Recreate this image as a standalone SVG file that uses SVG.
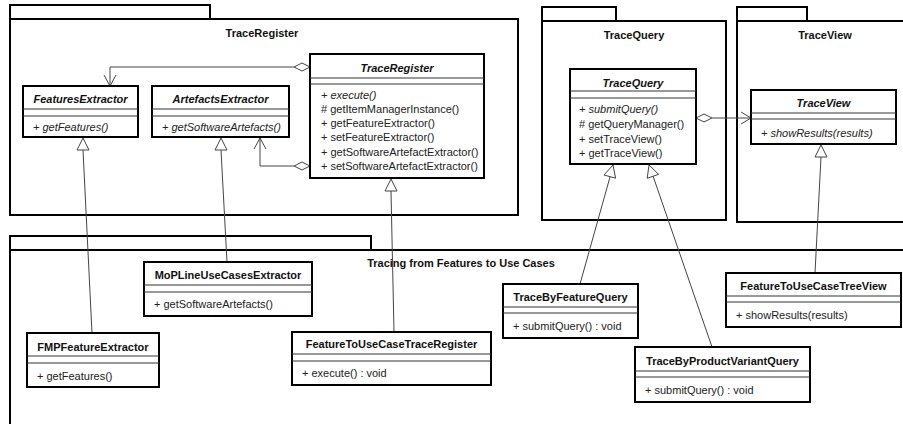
<svg xmlns="http://www.w3.org/2000/svg" width="903" height="424" viewBox="0 0 903 424">
<style>
text{font-family:"Liberation Sans",Arial,sans-serif;font-size:11px;fill:#111}
.pkg{fill:#fff;stroke:#000;stroke-width:2}
.ptitle{font-weight:bold;text-anchor:middle}
.box{fill:#fff;stroke:#000;stroke-width:2}
.sep{stroke:#333;stroke-width:1}
.name{font-weight:bold;text-anchor:middle}
.abs{font-style:italic}
.op{fill:#222}
.conn{fill:none;stroke:#444;stroke-width:1}
.dia{fill:#fff;stroke:#444;stroke-width:1}
.tri{fill:#fff;stroke:#444;stroke-width:1}
</style>

<g id="pkg-TraceRegister">
<rect class="pkg" x="10" y="5" width="200" height="14"/>
<rect class="pkg" x="10" y="19" width="508" height="196"/>
<text class="ptitle" x="262" y="37">TraceRegister</text>
</g>
<g id="pkg-TraceQuery">
<rect class="pkg" x="542" y="7" width="74" height="14"/>
<rect class="pkg" x="542" y="21" width="184" height="199"/>
<text class="ptitle" x="634" y="39">TraceQuery</text>
</g>
<g id="pkg-TraceView">
<rect class="pkg" x="737" y="7" width="70" height="14"/>
<rect class="pkg" x="737" y="21" width="176" height="201"/>
<text class="ptitle" x="825" y="39">TraceView</text>
</g>
<g id="pkg-Tracing">
<rect class="pkg" x="10" y="236" width="361" height="14"/>
<rect class="pkg" x="10" y="250" width="903" height="190"/>
<text class="ptitle" x="461" y="267">Tracing from Features to Use Cases</text>
</g>

<g id="connectors">
<!-- aggregation TraceRegister -> FeaturesExtractor -->
<polyline class="conn" points="294,67 110,67 110,86"/>
<polyline class="conn" points="104,75 110,86 116,75"/>
<polygon class="dia" points="310,67 302,63 294,67 302,71"/>
<!-- aggregation TraceRegister -> ArtefactsExtractor -->
<polyline class="conn" points="294,166 260,166 260,138"/>
<polyline class="conn" points="254,149 260,138 266,149"/>
<polygon class="dia" points="310,166 302,162 294,166 302,170"/>
<!-- aggregation TraceQuery -> TraceView -->
<line class="conn" x1="712" y1="118" x2="751" y2="118"/>
<polyline class="conn" points="741,112 751,118 741,124"/>
<polygon class="dia" points="696,118 704,114 712,118 704,122"/>
<!-- generalizations -->
<line class="conn" x1="83" y1="150" x2="92" y2="333"/>
<polygon class="tri" points="83,138 77,150 89,150"/>
<line class="conn" x1="221" y1="150" x2="227" y2="262"/>
<polygon class="tri" points="221,138 215,150 227,150"/>
<line class="conn" x1="391" y1="191" x2="394" y2="332"/>
<polygon class="tri" points="391,179 385,191 397,191"/>
<line class="conn" x1="610" y1="177" x2="580" y2="284"/>
<polygon class="tri" points="613,165 615.6,178.2 604,175"/>
<line class="conn" x1="653" y1="176" x2="712" y2="347"/>
<polygon class="tri" points="649,165 658.6,174.3 647.2,178.3"/>
<line class="conn" x1="821" y1="157" x2="815" y2="273"/>
<polygon class="tri" points="821,145 815,157 827,157"/>
</g>

<g id="FeaturesExtractor">
<rect class="box" x="23" y="86" width="115" height="51"/>
<line class="sep" x1="23" y1="109" x2="138" y2="109"/>
<line class="sep" x1="23" y1="116" x2="138" y2="116"/>
<text class="name abs" x="80.5" y="103">FeaturesExtractor</text>
<text class="op abs" x="33" y="131">+ getFeatures()</text>
</g>
<g id="ArtefactsExtractor">
<rect class="box" x="152" y="86" width="137" height="51"/>
<line class="sep" x1="152" y1="109" x2="289" y2="109"/>
<line class="sep" x1="152" y1="116" x2="289" y2="116"/>
<text class="name abs" x="220.5" y="103">ArtefactsExtractor</text>
<text class="op abs" x="162" y="131">+ getSoftwareArtefacts()</text>
</g>
<g id="TraceRegister">
<rect class="box" x="310" y="54" width="174" height="124"/>
<line class="sep" x1="310" y1="78" x2="484" y2="78"/>
<line class="sep" x1="310" y1="84" x2="484" y2="84"/>
<text class="name abs" x="397" y="72">TraceRegister</text>
<text class="op abs" x="321" y="99">+ execute()</text>
<text class="op" x="321" y="113"># getItemManagerInstance()</text>
<text class="op" x="321" y="127">+ getFeatureExtractor()</text>
<text class="op" x="321" y="141">+ setFeatureExtractor()</text>
<text class="op" x="321" y="156">+ getSoftwareArtefactExtractor()</text>
<text class="op" x="321" y="170">+ setSoftwareArtefactExtractor()</text>
</g>
<g id="TraceQuery">
<rect class="box" x="570" y="69" width="126" height="95"/>
<line class="sep" x1="570" y1="91" x2="696" y2="91"/>
<line class="sep" x1="570" y1="98" x2="696" y2="98"/>
<text class="name abs" x="633" y="87">TraceQuery</text>
<text class="op abs" x="579" y="113">+ submitQuery()</text>
<text class="op" x="579" y="128"># getQueryManager()</text>
<text class="op" x="579" y="143">+ setTraceView()</text>
<text class="op" x="579" y="157">+ getTraceView()</text>
</g>
<g id="TraceView">
<rect class="box" x="751" y="90" width="145" height="54"/>
<line class="sep" x1="751" y1="113" x2="896" y2="113"/>
<line class="sep" x1="751" y1="119" x2="896" y2="119"/>
<text class="name abs" x="823.5" y="107">TraceView</text>
<text class="op abs" x="761" y="137">+ showResults(results)</text>
</g>
<g id="FMPFeatureExtractor">
<rect class="box" x="27" y="333" width="132" height="54"/>
<line class="sep" x1="27" y1="356" x2="159" y2="356"/>
<line class="sep" x1="27" y1="363" x2="159" y2="363"/>
<text class="name" x="93" y="351">FMPFeatureExtractor</text>
<text class="op" x="37" y="380">+ getFeatures()</text>
</g>
<g id="MoPLineUseCasesExtractor">
<rect class="box" x="144" y="262" width="168" height="54"/>
<line class="sep" x1="144" y1="285" x2="312" y2="285"/>
<line class="sep" x1="144" y1="292" x2="312" y2="292"/>
<text class="name" x="228" y="279">MoPLineUseCasesExtractor</text>
<text class="op" x="154" y="308">+ getSoftwareArtefacts()</text>
</g>
<g id="FeatureToUseCaseTraceRegister">
<rect class="box" x="292" y="332" width="199" height="53"/>
<line class="sep" x1="292" y1="354" x2="491" y2="354"/>
<line class="sep" x1="292" y1="361" x2="491" y2="361"/>
<text class="name" x="391.5" y="348">FeatureToUseCaseTraceRegister</text>
<text class="op" x="302" y="377">+ execute() : void</text>
</g>
<g id="TraceByFeatureQuery">
<rect class="box" x="503" y="284" width="135" height="54"/>
<line class="sep" x1="503" y1="307" x2="638" y2="307"/>
<line class="sep" x1="503" y1="313" x2="638" y2="313"/>
<text class="name" x="570.5" y="301">TraceByFeatureQuery</text>
<text class="op" x="513" y="330">+ submitQuery() : void</text>
</g>
<g id="TraceByProductVariantQuery">
<rect class="box" x="635" y="347" width="175" height="55"/>
<line class="sep" x1="635" y1="371" x2="810" y2="371"/>
<line class="sep" x1="635" y1="377" x2="810" y2="377"/>
<text class="name" x="722.5" y="365">TraceByProductVariantQuery</text>
<text class="op" x="645" y="394">+ submitQuery() : void</text>
</g>
<g id="FeatureToUseCaseTreeView">
<rect class="box" x="726" y="273" width="175" height="54"/>
<line class="sep" x1="726" y1="296" x2="901" y2="296"/>
<line class="sep" x1="726" y1="302" x2="901" y2="302"/>
<text class="name" x="813.5" y="290">FeatureToUseCaseTreeView</text>
<text class="op" x="736" y="319">+ showResults(results)</text>
</g>
</svg>
